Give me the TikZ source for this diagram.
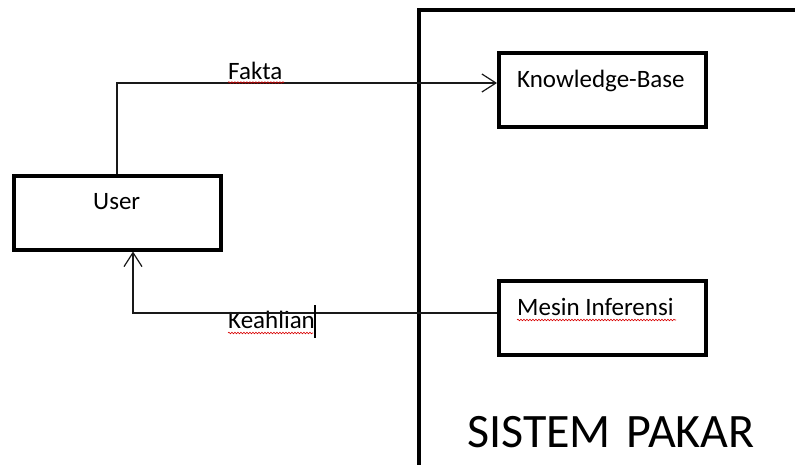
\documentclass[tikz,border=0pt]{standalone}
\usepackage{fontspec}
\setmainfont{Carlito}
\usetikzlibrary{arrows.meta,decorations.pathmorphing}
\begin{document}
\begin{tikzpicture}[x=1pt,y=-1pt,
  box/.style={draw=black,line width=4pt,minimum width=207pt,minimum height=74pt,inner sep=0pt},
  txt/.style={anchor=base west,inner sep=0pt,font=\fontsize{25}{30}\selectfont},
  conn/.style={draw=black!90,line width=1.2pt,-{Straight Barb[length=14pt,width=18pt,line width=1.2pt]}},
  squiggle/.style={draw=red!85!black,line width=0.6pt,decorate,decoration={snake,amplitude=0.8pt,segment length=3pt}}]
\useasboundingbox (0,0) rectangle (795,464);
\clip (0,0) rectangle (795,464);
\fill[white] (0,0) rectangle (795,464);
% big system box (extends beyond the picture)
\draw[line width=4.5pt] (419,600) -- (419,10) -- (900,10);
% boxes
\node[box] (user) at (117,212.5) {};
\node[box] (kb) at (602.5,90) {};
\node[box] (mi) at (602.5,318) {};
% texts
\node[txt] (usert) at (93,209) {User};
\node[txt] (kbt) at (517,87) {Knowledge-Base};
\node[txt] (mit) at (517,315) {Mesin Inferensi};
\node[txt] (fakta) at (228,79) {Fakta};
\node[txt] (keahlian) at (228,328) {Keahlian};
\node[anchor=base west,inner sep=0pt,font=\fontsize{48}{56}\selectfont] (sp) at (467,447) {SISTEM\hspace{0.33em}PAKAR};
% connectors
\draw[conn] (user.north) |- ([yshift=7pt]kb.west);
\draw[conn] ([yshift=5pt]mi.west) -| ([xshift=16pt]user.south);
% spell-check squiggles
\draw[squiggle] (228,82.5) -- (284,82.5);
\draw[squiggle] (228,333) -- (313,333);
\draw[squiggle] (517,320) -- (676,320);
% text cursor
\draw[line width=2pt] (315,305) -- (315,338);
\end{tikzpicture}
\end{document}
